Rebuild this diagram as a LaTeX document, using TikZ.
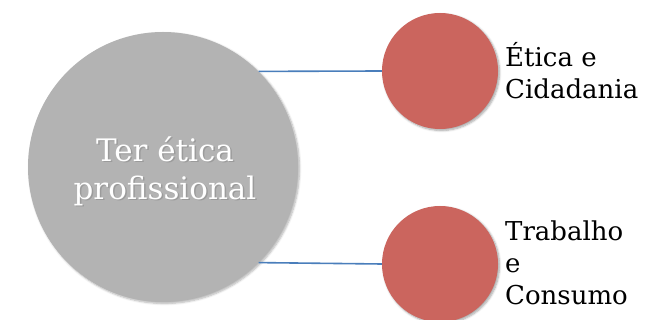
\documentclass[tikz,border=0pt]{standalone}
\usepackage{fontspec}
\setmainfont{DejaVu Serif}
\usetikzlibrary{shadows.blur}
\definecolor{hubgray}{RGB}{179,179,179}
\definecolor{leafred}{RGB}{203,101,94}
\definecolor{linkblue}{RGB}{74,126,187}
\tikzset{
  hub/.style={circle, fill=hubgray, minimum size=270pt, inner sep=0pt,
    blur shadow={shadow blur steps=6, shadow xshift=1.5pt, shadow yshift=-1.5pt, shadow opacity=30}},
  leaf/.style={circle, fill=leafred, minimum size=116pt, inner sep=0pt,
    blur shadow={shadow blur steps=6, shadow xshift=1.5pt, shadow yshift=-1.5pt, shadow opacity=35}},
  link/.style={draw=linkblue, line width=1.6pt},
  hubtext/.style={align=center, font=\fontsize{31}{38}\selectfont, inner sep=0pt},
  leaftext/.style={align=left, anchor=west, font=\fontsize{26}{32}\selectfont, inner sep=0pt}
}
\begin{document}
\begin{tikzpicture}[x=1pt, y=-1pt]
  \useasboundingbox (0,0) rectangle (645,320);
  % main and secondary circles
  \node[hub]  (hub) at (163,167) {};
  \node[leaf] (top) at (440,71)  {};
  \node[leaf] (bot) at (440,264) {};
  % connectors
  \draw[link] (hub.45.3)  -- (top.west);
  \draw[link] (hub.-45.6) -- (bot.west);
  % central caption with a soft shadow under it
  \node[hubtext, text=black!45, opacity=0.6] (hubshade) at (166.5,172.5) {Ter ética\\profissional};
  \node[hubtext, text=white] (hubtitle) at (165,171) {Ter ética\\profissional};
  % side labels
  \node[leaftext] (toplabel) at (505,70.5) {Ética e\\Cidadania};
  \node[leaftext] (botlabel) at (505,263)  {Trabalho\\e\\Consumo};
\end{tikzpicture}
\end{document}
